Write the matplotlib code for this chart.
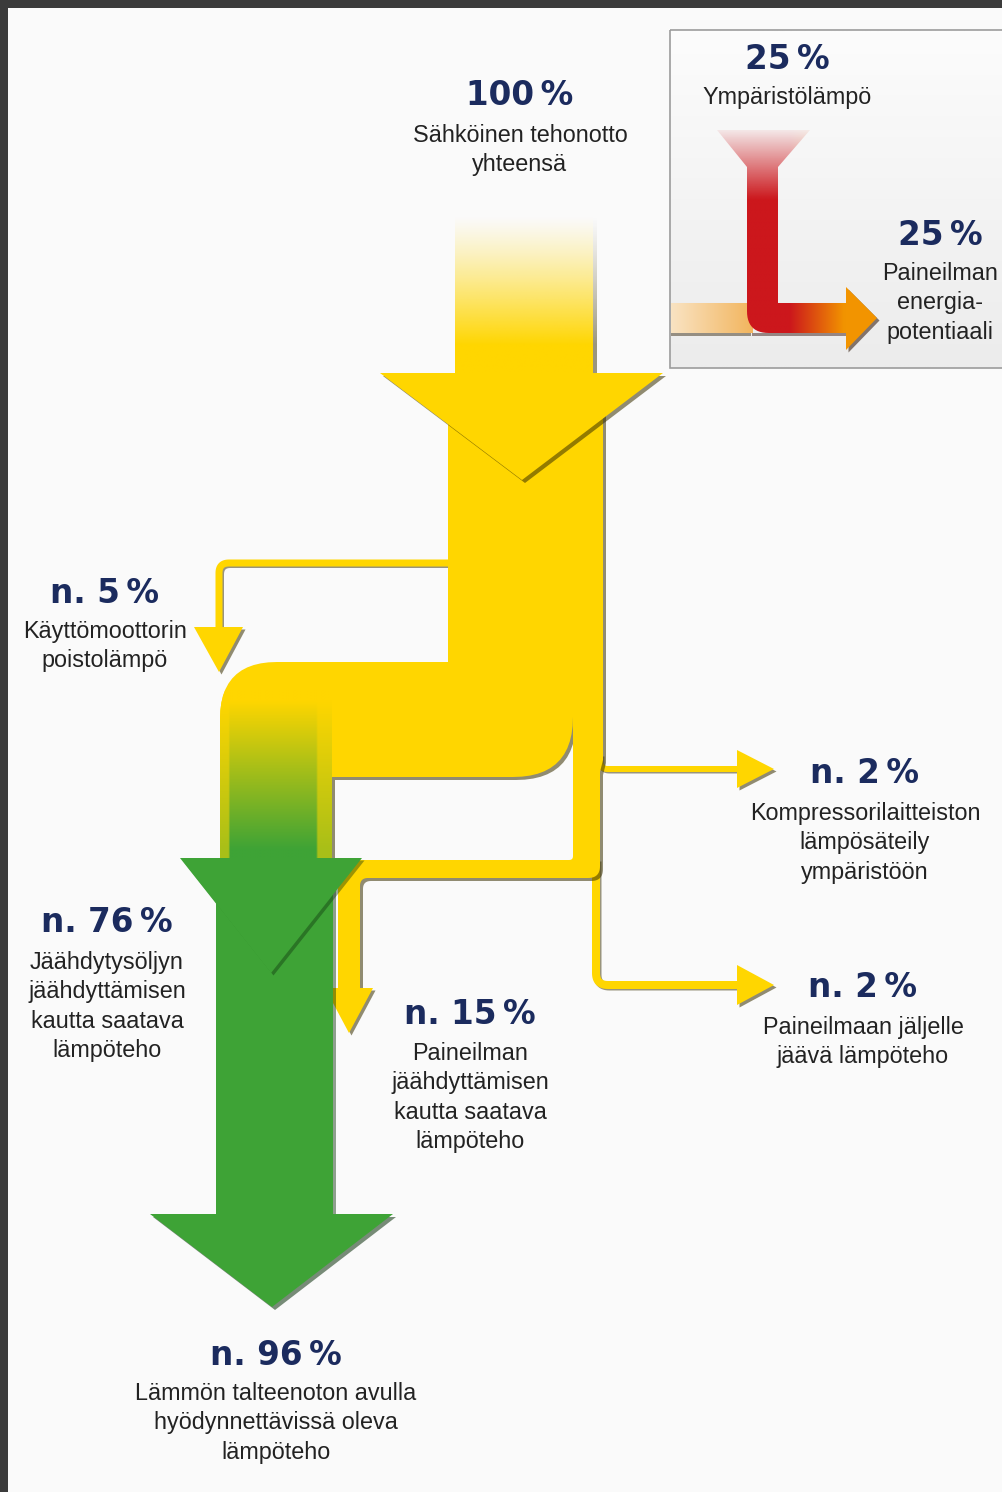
import numpy as np
import matplotlib
matplotlib.use('Agg')
import matplotlib.pyplot as plt
from matplotlib.patches import Polygon, Rectangle
from matplotlib.colors import to_rgb

W, H = 1003, 1492

# --- data -------------------------------------------------------------
flow_keys = ['input', 'ambient', 'air_potential', 'motor', 'radiation',
             'oil', 'air_cooling', 'residual', 'recovered']
flow_share = [100, 25, 25, 5, 2, 76, 15, 2, 96]
flow_approx = [False, False, False, True, True, True, True, True, True]
flow_lines = [
    ['Sähköinen tehonotto', 'yhteensä'],
    ['Ympäristölämpö'],
    ['Paineilman', 'energia-', 'potentiaali'],
    ['Käyttömoottorin', 'poistolämpö'],
    ['Kompressorilaitteiston', 'lämpösäteily', 'ympäristöön'],
    ['Jäähdytysöljyn', 'jäähdyttämisen', 'kautta saatava', 'lämpöteho'],
    ['Paineilman', 'jäähdyttämisen', 'kautta saatava', 'lämpöteho'],
    ['Paineilmaan jäljelle', 'jäävä lämpöteho'],
    ['Lämmön talteenoton avulla', 'hyödynnettävissä oleva', 'lämpöteho'],
]

# --- layout (pixel coords, y down) ------------------------------------
# x centre, y of the percent figure, y of first text line
label_pos = {
    'input': (520, 93, 135),
    'ambient': (787, 57, 97),
    'air_potential': (940, 233, 273),
    'motor': (105, 591, 631),
    'radiation': (865, 771, 813),
    'oil': (107, 920, 962),
    'air_cooling': (470, 1012, 1053),
    'residual': (863, 985, 1027),
    'recovered': (276, 1353, 1393),
}
line_step = 29.3

YELLOW = '#ffd600'
GREEN = '#3ea336'
RED = '#cc171c'
ORANGE = '#f29400'
NAVY = '#1b2b5e'
INK = '#222222'
SHADE_Y = '#3a3000'
SHADE_G = '#0c300c'


def rounded(pts, radii, closed=True, n=14):
    pts = [np.array(p, float) for p in pts]
    m = len(pts)
    out = []
    for i in range(m):
        p1 = pts[i]
        r = radii[i]
        if (not closed and (i == 0 or i == m - 1)) or r == 0:
            out.append(p1)
            continue
        p0 = pts[i - 1]
        p2 = pts[(i + 1) % m]
        d1 = (p0 - p1) / np.linalg.norm(p0 - p1)
        d2 = (p2 - p1) / np.linalg.norm(p2 - p1)
        a = p1 + d1 * r
        b = p1 + d2 * r
        t = np.linspace(0, 1, n)[:, None]
        out.extend((1 - t) ** 2 * a + 2 * (1 - t) * t * p1 + t ** 2 * b)
    return np.array(out)


fig = plt.figure(figsize=(W / 100, H / 100), dpi=100)
fig.patch.set_facecolor('#3b3b3b')
ax = fig.add_axes([0, 0, 1, 1])
ax.set_facecolor('#3b3b3b')
ax.add_patch(Rectangle((8, 8), W, H, facecolor='#fafafa', edgecolor='none', zorder=0))


def shape(pts, color, z, shadow=SHADE_Y, off=3, alpha=0.55):
    pts = np.asarray(pts, float)
    if shadow:
        ax.add_patch(Polygon(pts + off, closed=True, facecolor=shadow,
                             edgecolor='none', alpha=alpha, zorder=z - 0.05))
    p = Polygon(pts, closed=True, facecolor=color, edgecolor='none', zorder=z)
    ax.add_patch(p)
    return p


def pipe(pts, r, width, color, z, shadow=SHADE_Y):
    line = rounded(pts, [r] * len(pts), closed=False)
    ax.plot(line[:, 0] + 1.5, line[:, 1] + 1.5, color=shadow, lw=width * 0.72,
            alpha=0.5, solid_capstyle='butt', solid_joinstyle='round', zorder=z - 0.05)
    ax.plot(line[:, 0], line[:, 1], color=color, lw=width * 0.72,
            solid_capstyle='butt', solid_joinstyle='round', zorder=z)


def gradient(rgba, x0, x1, y0, y1, clip, z):
    im = ax.imshow(rgba, extent=(x0, x1, y1, y0), origin='upper',
                   interpolation='bilinear', aspect='auto', zorder=z)
    im.set_clip_path(clip)


# --- thin side flows (behind the main body) ---------------------------
pipe([(452, 563), (219, 563), (219, 632)], 10, 7, YELLOW, 1.9)
shape([(194, 627), (243, 627), (219, 672)], YELLOW, 1.95, off=2.5)

pipe([(600, 755), (600, 769), (742, 769)], 8, 6, YELLOW, 1.9)
shape([(737, 750), (774, 769), (737, 788)], YELLOW, 1.95, off=2.5)

pipe([(596, 860), (596, 985), (742, 985)], 12, 8, YELLOW, 1.9)
shape([(737, 965), (774, 985), (737, 1005)], YELLOW, 1.95, off=2.5)

# --- main yellow body --------------------------------------------------
body_pts = [(448, 395), (603, 395), (603, 760), (600, 772), (600, 878),
            (360, 878), (360, 992), (338, 992),
            (338, 860), (573, 860), (573, 717), (573, 777), (332, 777),
            (332, 870), (220, 870), (220, 662), (448, 662)]
body_r = [0, 0, 0, 0, 12, 8, 0, 0, 13, 4, 0, 60, 0, 0, 0, 57, 0]
body = shape(rounded(body_pts, body_r), YELLOW, 2)
shape([(325, 988), (373, 988), (349, 1033)], YELLOW, 2.1, off=2.5)

# yellow -> green inside the left column
gy = np.linspace(690, 870, 120)[:, None]
gx = np.linspace(220, 332, 60)[None, :]
t = np.clip((gy - 700) / 150, 0, 1)
edge = np.where((gx > 229) & (gx < 318), 1.0, 0.45)
k = (t * edge)[..., None]
col = (1 - k) * np.array(to_rgb(YELLOW)) + k * np.array(to_rgb(GREEN))
rgba = np.concatenate([col, np.ones(col.shape[:2] + (1,))], axis=2)
gradient(rgba, 220, 332, 690, 870, body, 2.2)

# --- green output column ----------------------------------------------
shape([(216, 862), (333, 862), (333, 1222), (216, 1222)], GREEN, 3, shadow=SHADE_G, alpha=0.45)
shape([(180, 858), (362, 858), (271, 973)], GREEN, 3.5, shadow=SHADE_G, off=2.5, alpha=0.4)
shape([(150, 1214), (393, 1214), (272, 1307)], GREEN, 3.5, shadow=SHADE_G)

# --- input arrow ------------------------------------------------------
sy = np.linspace(207, 380, 160)[:, None]
a = np.clip((sy - 215) / 130, 0, 1) ** 1.2
shaft_col = np.ones((160, 2, 4))
shaft_col[..., :3] = to_rgb(YELLOW)
shaft_col[..., 3] = a
shaft = Polygon([(455, 207), (593, 207), (593, 380), (455, 380)], closed=True,
                facecolor='none', edgecolor='none', zorder=5)
ax.add_patch(shaft)
shadow_col = np.zeros((160, 2, 4))
shadow_col[..., :3] = to_rgb(SHADE_Y)
shadow_col[..., 3] = a * 0.5
sh = Polygon([(593, 207), (597, 207), (597, 380), (593, 380)], closed=True,
             facecolor='none', edgecolor='none', zorder=4.9)
ax.add_patch(sh)
gradient(shadow_col, 593, 597, 207, 380, sh, 4.9)
gradient(shaft_col, 455, 593, 207, 380, shaft, 5)
shape([(380, 373), (663, 373), (522, 480)], YELLOW, 5.2, off=3)

# --- inset box --------------------------------------------------------
box = Rectangle((670, 30), 345, 338, facecolor='none', edgecolor='none', zorder=6)
ax.add_patch(box)
by = np.linspace(0, 1, 50)[:, None, None]
box_col = (1 - by) * np.array(to_rgb('#fcfcfc')) + by * np.array(to_rgb('#ececec'))
box_col = np.repeat(box_col, 2, axis=1)
gradient(box_col, 670, 1015, 30, 368, box, 6)
ax.add_patch(Rectangle((670, 30), 345, 338, facecolor='none',
                       edgecolor='#9c9c9c', lw=1.2, zorder=8))

# incoming compressed-air band
bx = np.linspace(0, 1, 60)[None, :, None]
band_col = (1 - bx) * np.array(to_rgb('#f9e3c2')) + bx * np.array(to_rgb('#f2b55e'))
band_col = np.repeat(band_col, 2, axis=0)
ax.add_patch(Rectangle((671, 333), 80, 2.5, facecolor='#2a1a00', alpha=0.45,
                       edgecolor='none', zorder=6.05))
band = Rectangle((671, 303), 82, 30, facecolor='none', edgecolor='none', zorder=6.1)
ax.add_patch(band)
gradient(band_col, 671, 753, 303, 333, band, 6.1)

# red L arrow
l_pts = [(717, 130), (810, 130), (778, 167), (778, 303), (847, 303),
         (847, 333), (747, 333), (747, 167)]
l_r = [0, 0, 0, 0, 0, 0, 22, 0]
ax.add_patch(Rectangle((752, 333), 96, 3, facecolor='#2a0800', alpha=0.45,
                       edgecolor='none', zorder=6.15))
red_l = Polygon(rounded(l_pts, l_r), closed=True, facecolor='none',
                edgecolor='none', zorder=6.2)
ax.add_patch(red_l)
ry = np.linspace(128, 336, 120)[:, None]
rx = np.linspace(700, 850, 90)[None, :]
kx = np.clip((rx - 790) / 55, 0, 1)[..., None] * np.ones((120, 1, 1))
red_col = (1 - kx) * np.array(to_rgb(RED)) + kx * np.array(to_rgb(ORANGE))
ra = np.clip(0.08 + (ry - 130) / 75, 0, 1) * np.ones((1, 90))
red_rgba = np.concatenate([red_col, ra[..., None]], axis=2)
gradient(red_rgba, 700, 850, 128, 336, red_l, 6.2)
shape([(846, 287), (877, 318), (846, 350)], ORANGE, 6.3, shadow='#2a1000', off=2.5)

# --- texts ------------------------------------------------------------
for key, share, approx, lines in zip(flow_keys, flow_share, flow_approx, flow_lines):
    x, yp, yl = label_pos[key]
    pct = ('n. ' if approx else '') + f'{share}\u2009%'
    ax.text(x, yp + 12, pct, ha='center', va='baseline', fontsize=23.5,
            fontweight='bold', family='DejaVu Sans', color=NAVY, zorder=10)
    for i, line in enumerate(lines):
        ax.text(x, yl + i * line_step + 7, line, ha='center', va='baseline',
                fontsize=16.8, family='Liberation Sans', color=INK, zorder=10)

ax.set_xlim(0, W)
ax.set_ylim(H, 0)
ax.axis('off')
fig.savefig('out.png', dpi=100, facecolor=fig.get_facecolor())
